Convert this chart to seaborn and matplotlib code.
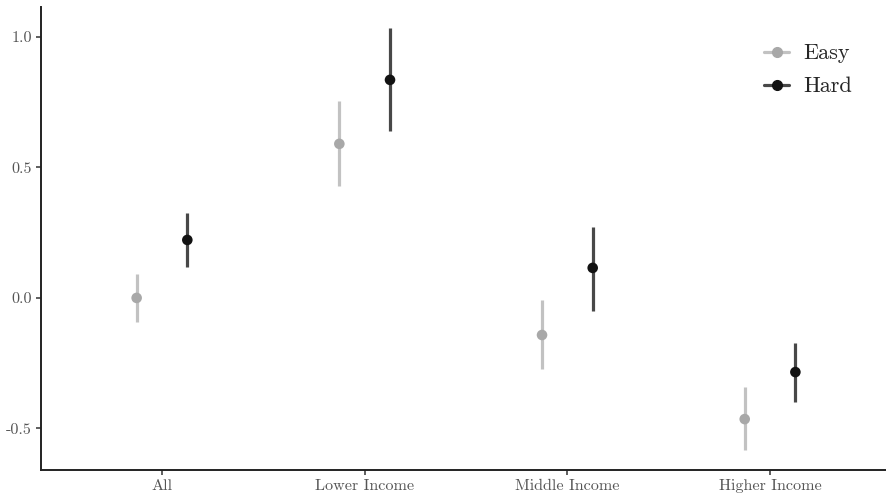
import matplotlib
matplotlib.use("Agg")
import matplotlib.pyplot as plt
from matplotlib.lines import Line2D
import numpy as np
import pandas as pd
import seaborn as sns

# Estimates with confidence bounds by income group and task difficulty
groups = ["All", "Lower Income", "Middle Income", "Higher Income"]
conditions = ["Easy", "Hard"]

easy_est = [0.000, 0.590, -0.142, -0.464]
easy_lo = [-0.092, 0.429, -0.272, -0.582]
easy_hi = [0.092, 0.755, -0.008, -0.341]

hard_est = [0.222, 0.835, 0.115, -0.284]
hard_lo = [0.119, 0.640, -0.050, -0.398]
hard_hi = [0.326, 1.034, 0.272, -0.172]

y_ticks = [-0.5, 0.0, 0.5, 1.0]
y_tick_labels = ["-0.5", "0.0", "0.5", "1.0"]

point_colors = {"Easy": "#a8a8a8", "Hard": "#121212"}
line_colors = {"Easy": "#c2c2c2", "Hard": "#484848"}

df = pd.DataFrame({
    "group": groups * 2,
    "condition": ["Easy"] * 4 + ["Hard"] * 4,
    "est": easy_est + hard_est,
    "lo": easy_lo + hard_lo,
    "hi": easy_hi + hard_hi,
})
offset = {"Easy": -0.125, "Hard": 0.125}
df["xpos"] = [groups.index(g) + offset[c] for g, c in zip(df["group"], df["condition"])]

sns.set_theme(style="ticks")
plt.rcParams["font.family"] = ["cmr10", "DejaVu Serif"]
plt.rcParams["axes.unicode_minus"] = False
plt.rcParams["axes.formatter.use_mathtext"] = True

fig = plt.figure(figsize=(8.87, 4.96), dpi=100)
ax = fig.add_axes([0.0462, 0.0524, 0.9538, 0.934])

for cond in conditions:
    sub = df[df["condition"] == cond]
    ax.vlines(sub["xpos"], sub["lo"], sub["hi"], color=line_colors[cond],
              linewidth=2.3, zorder=2)

sns.scatterplot(data=df, x="xpos", y="est", hue="condition", palette=point_colors,
                s=58, edgecolor="none", legend=False, ax=ax, zorder=3)

ax.set_xlim(-0.597, 3.577)
ax.set_ylim(-0.659, 1.115)
ax.set_xticks(range(len(groups)))
ax.set_xticklabels(groups)
ax.set_yticks(y_ticks)
ax.set_yticklabels(y_tick_labels)
ax.set_xlabel("")
ax.set_ylabel("")

for side in ["top", "right"]:
    ax.spines[side].set_visible(False)
for side in ["left", "bottom"]:
    ax.spines[side].set_color("#222222")
    ax.spines[side].set_linewidth(1.4)
ax.tick_params(axis="both", length=3.5, width=1.1, color="#333333",
               labelcolor="#555555", labelsize=11.6, pad=3)

handles = [
    Line2D([0], [0], color=line_colors[c], linewidth=2.3, marker="o",
           markersize=7, markerfacecolor=point_colors[c],
           markeredgecolor=point_colors[c], label=c)
    for c in conditions
]
ax.legend(handles=handles, loc="upper right", bbox_to_anchor=(0.983, 0.963),
          frameon=False, fontsize=16, handlelength=1.15, handletextpad=0.65,
          labelspacing=0.6)

fig.savefig("out.png", dpi=100)
